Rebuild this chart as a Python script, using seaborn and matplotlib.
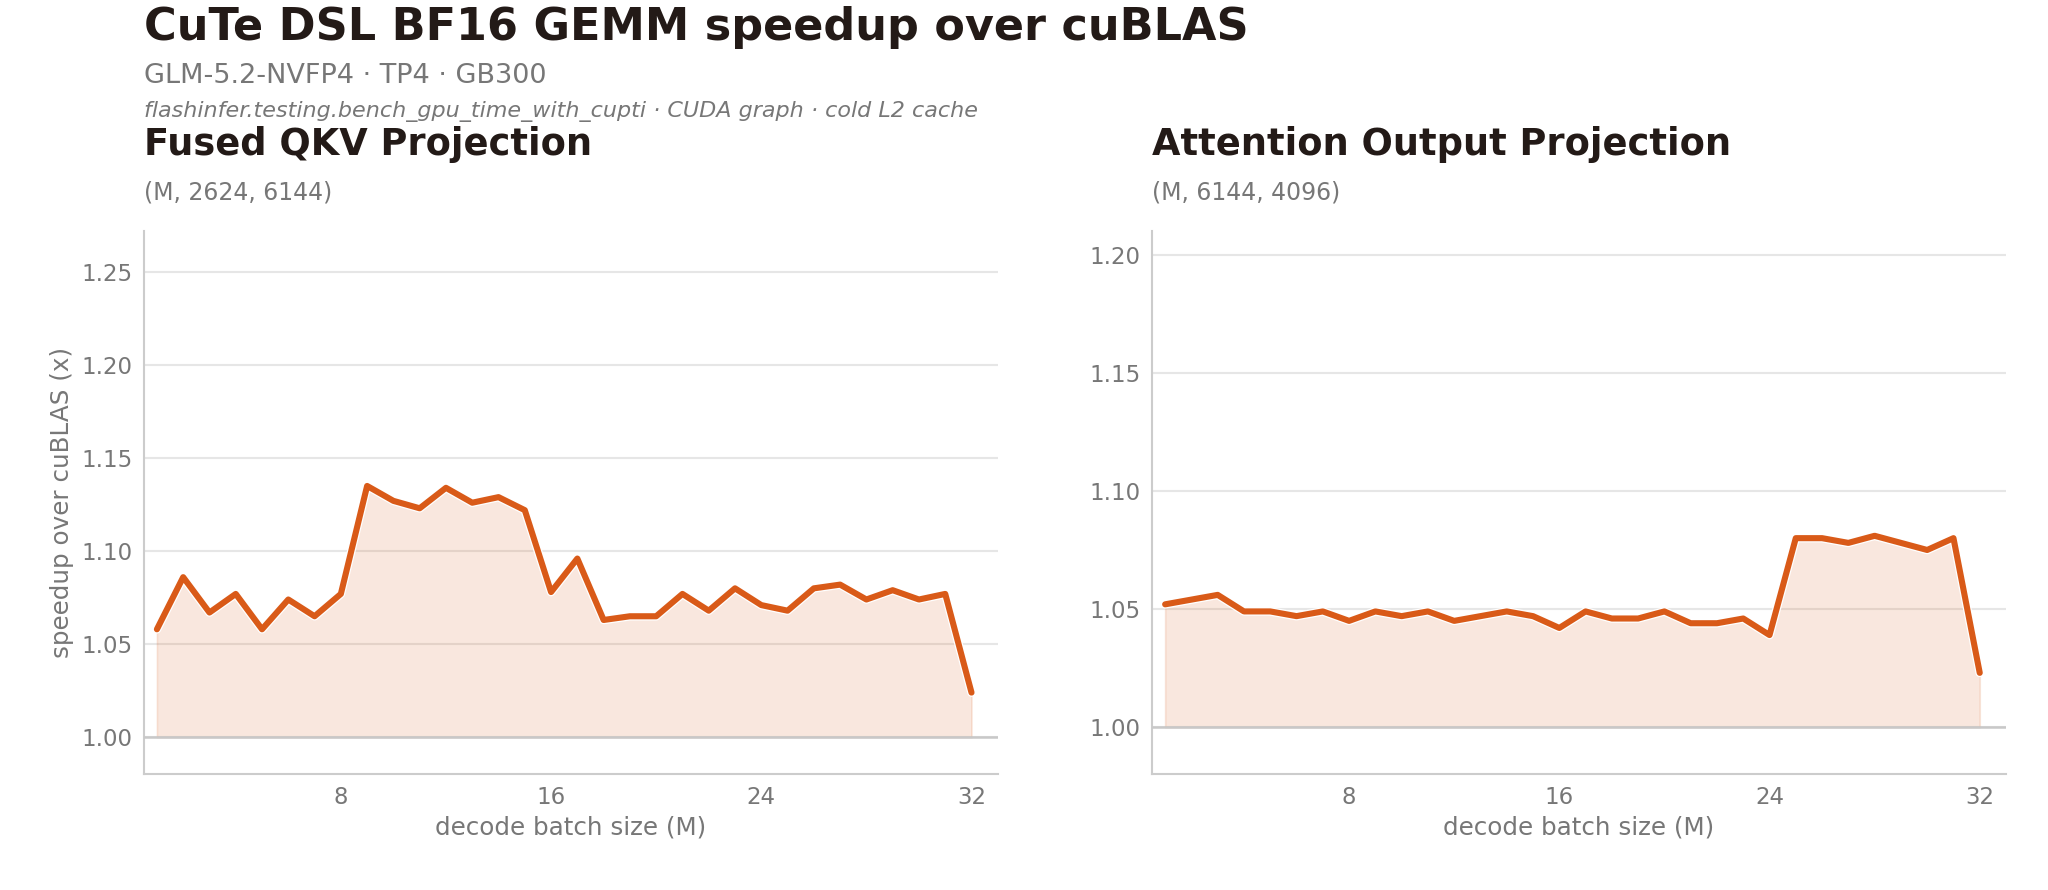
import matplotlib
matplotlib.use("Agg")
import matplotlib.pyplot as plt
import matplotlib.patheffects as pe
import numpy as np
import pandas as pd
import seaborn as sns

# decode batch sizes
batch = list(range(1, 33))

# speedup over cuBLAS
qkv_speedup = [1.058, 1.086, 1.067, 1.077, 1.058, 1.074, 1.065, 1.077,
               1.135, 1.127, 1.123, 1.134, 1.126, 1.129, 1.122, 1.078,
               1.096, 1.063, 1.065, 1.065, 1.077, 1.068, 1.080, 1.071,
               1.068, 1.080, 1.082, 1.074, 1.079, 1.074, 1.077, 1.024]
oproj_speedup = [1.052, 1.054, 1.056, 1.049, 1.049, 1.047, 1.049, 1.045,
                 1.049, 1.047, 1.049, 1.045, 1.047, 1.049, 1.047, 1.042,
                 1.049, 1.046, 1.046, 1.049, 1.044, 1.044, 1.046, 1.039,
                 1.080, 1.080, 1.078, 1.081, 1.078, 1.075, 1.080, 1.023]

panels = [
    ("Fused QKV Projection", "(M, 2624, 6144)", qkv_speedup, (0.98, 1.272), [1.00, 1.05, 1.10, 1.15, 1.20, 1.25]),
    ("Attention Output Projection", "(M, 6144, 4096)", oproj_speedup, (0.98, 1.21), [1.00, 1.05, 1.10, 1.15, 1.20]),
]

LINE = "#d95a18"
DARK = "#231a17"
GREY = "#777777"

sns.set_style("white")
plt.rcParams['font.family'] = ['DejaVu Sans']

fig = plt.figure(figsize=(20.48, 8.9), dpi=100)
ax_pos = [[0.0702, 0.1298, 0.417, 0.6107], [0.5625, 0.1298, 0.417, 0.6107]]

fig.text(0.0702, 0.955, "CuTe DSL BF16 GEMM speedup over cuBLAS", fontsize=32,
         fontweight="bold", color=DARK, va="baseline")
fig.text(0.0702, 0.9064, "GLM-5.2-NVFP4 · TP4 · GB300", fontsize=19.5, color=GREY, va="baseline")
fig.text(0.0702, 0.869, "flashinfer.testing.bench_gpu_time_with_cupti · CUDA graph · cold L2 cache",
         fontsize=16, color=GREY, style="italic", va="baseline")

for i, (title, shape, vals, ylim, yticks) in enumerate(panels):
    ax = fig.add_axes(ax_pos[i])
    df = pd.DataFrame({"M": batch, "speedup": vals})
    ax.fill_between(df["M"], 1.0, df["speedup"], color=LINE, alpha=0.14, lw=1.2)
    sns.lineplot(data=df, x="M", y="speedup", ax=ax, color=LINE, lw=4.4, zorder=5,
                 path_effects=[pe.Stroke(linewidth=6.2, foreground="white"), pe.Normal()])
    ax.axhline(1.0, color="#c8c8c8", lw=1.8, zorder=3)
    ax.set_xlim(0.5, 33)
    ax.set_ylim(*ylim)
    ax.set_xticks([8, 16, 24, 32])
    ax.set_yticks(yticks)
    ax.set_yticklabels([f"{t:.2f}" for t in yticks])
    ax.yaxis.grid(True, color="#e6e6e6", lw=1.5)
    ax.set_axisbelow(True)
    for s in ["top", "right"]:
        ax.spines[s].set_visible(False)
    for s in ["left", "bottom"]:
        ax.spines[s].set_color("#cccccc")
        ax.spines[s].set_linewidth(1.5)
    ax.tick_params(axis="both", labelsize=16.5, labelcolor=GREY, length=0, pad=8)
    ax.set_xlabel("decode batch size (M)", fontsize=17.7, color=GREY, labelpad=5)
    if i == 0:
        ax.set_ylabel("speedup over cuBLAS (x)", fontsize=17.7, color=GREY, labelpad=5)
    else:
        ax.set_ylabel("")
    x0 = ax_pos[i][0]
    fig.text(x0, 0.8258, title, fontsize=26.5, fontweight="bold", color=DARK, va="baseline")
    fig.text(x0, 0.7764, shape, fontsize=17, color=GREY, va="baseline")

fig.savefig("out.png", dpi=100)
